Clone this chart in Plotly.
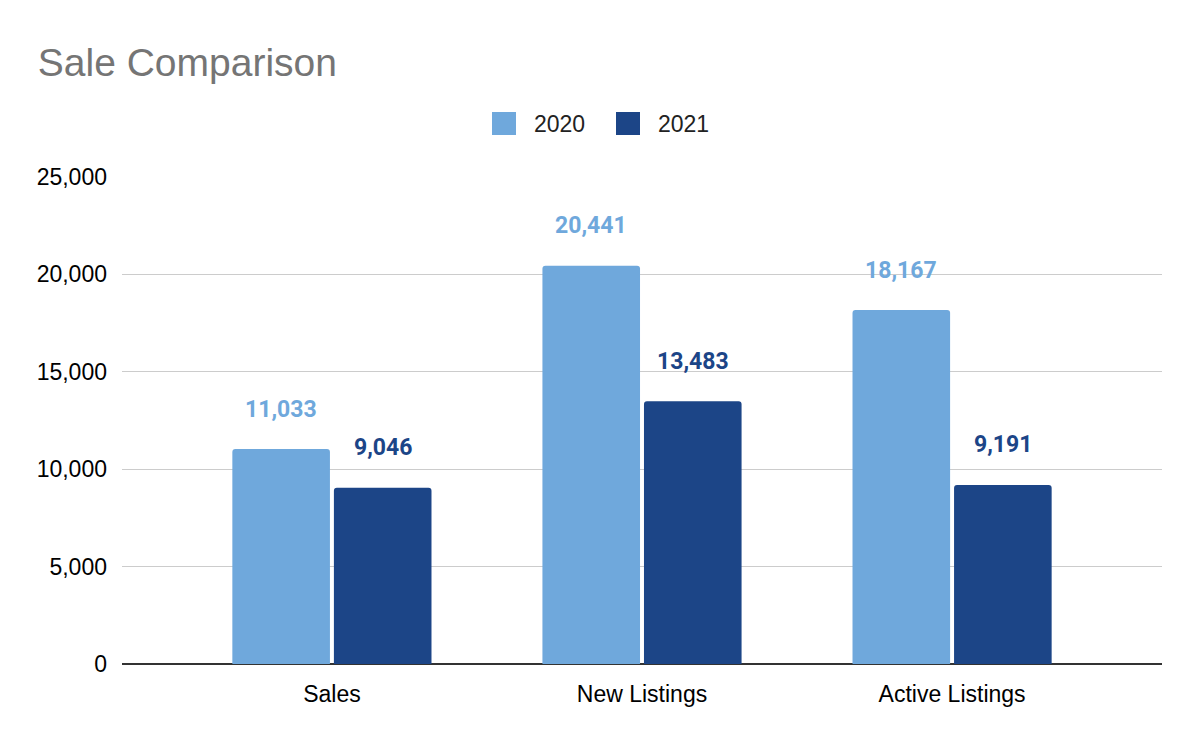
import plotly.graph_objects as go

categories = ["Sales", "New Listings", "Active Listings"]
series_names = ["2020", "2021"]
values_2020 = [11033, 20441, 18167]
values_2021 = [9046, 13483, 9191]
y_ticks = [0, 5000, 10000, 15000, 20000, 25000]
colors = ["#6fa8dc", "#1c4587"]

W, H = 1192, 734
ML, MR, MT, MB = 114, 38, 169, 78
PW, PH = W - ML - MR, H - MT - MB


def px_x(fx):
    return (fx - ML) / PW


def px_y(fy):
    return (H - MB - fy) / PH


fig = go.Figure()
for name, vals, col in zip(series_names, [values_2020, values_2021], colors):
    fig.add_trace(go.Bar(
        x=categories, y=vals, name=name, showlegend=False,
        marker=dict(color=col, line=dict(width=0), cornerradius=3),
        hoverinfo="skip",
    ))

# data labels above bars
bar_px = 98
gap_px = 4
shifts = [-(bar_px + gap_px) / 2, (bar_px + gap_px) / 2]
for vals, col, sh in zip([values_2020, values_2021], colors, shifts):
    for c, v in zip(categories, vals):
        fig.add_annotation(
            x=c, y=v, xref="x", yref="y", text=f"{v:,}", showarrow=False,
            xshift=sh, yshift=40, yanchor="middle",
            font=dict(family="Roboto", size=23, color=col, weight="bold"),
        )

# legend (large square swatches, centred on the page)
legend_swatch_left = [484, 608]
for name, col, sx in zip(series_names, colors, legend_swatch_left):
    fig.add_shape(type="rect", xref="paper", yref="paper",
                  x0=px_x(sx), x1=px_x(sx + 24), y0=px_y(127), y1=px_y(104),
                  fillcolor=col, line=dict(width=0), layer="above")
    fig.add_annotation(xref="paper", yref="paper", x=px_x(sx + 40), y=px_y(116),
                       xanchor="left", yanchor="middle", text=name, showarrow=False,
                       font=dict(family="Liberation Sans, Arial", size=23, color="#222222"))

fig.update_layout(
    width=W, height=H,
    paper_bgcolor="white", plot_bgcolor="white",
    margin=dict(l=ML, r=MR, t=MT, b=MB),
    barmode="group", bargap=0.345, bargroupgap=0.039,
    font=dict(family="Liberation Sans, Arial", size=23, color="#000000"),
    title=dict(text="Sale Comparison", x=0.025, xanchor="left", y=0.926, yanchor="middle",
               font=dict(family="Liberation Sans, Arial", size=39, color="#757575")),
    showlegend=False,
)
fig.update_xaxes(range=[-0.677, 2.677], showgrid=False, showline=False, ticks="",
                 ticklabelstandoff=14, zeroline=False)
fig.update_yaxes(range=[0, 25000], tickvals=y_ticks, tickformat=",", showgrid=True,
                 gridcolor="#cccccc", gridwidth=1.3, zeroline=True, zerolinecolor="#333333",
                 zerolinewidth=2, showline=False, ticklabelstandoff=14)

fig.write_html("out.html")
